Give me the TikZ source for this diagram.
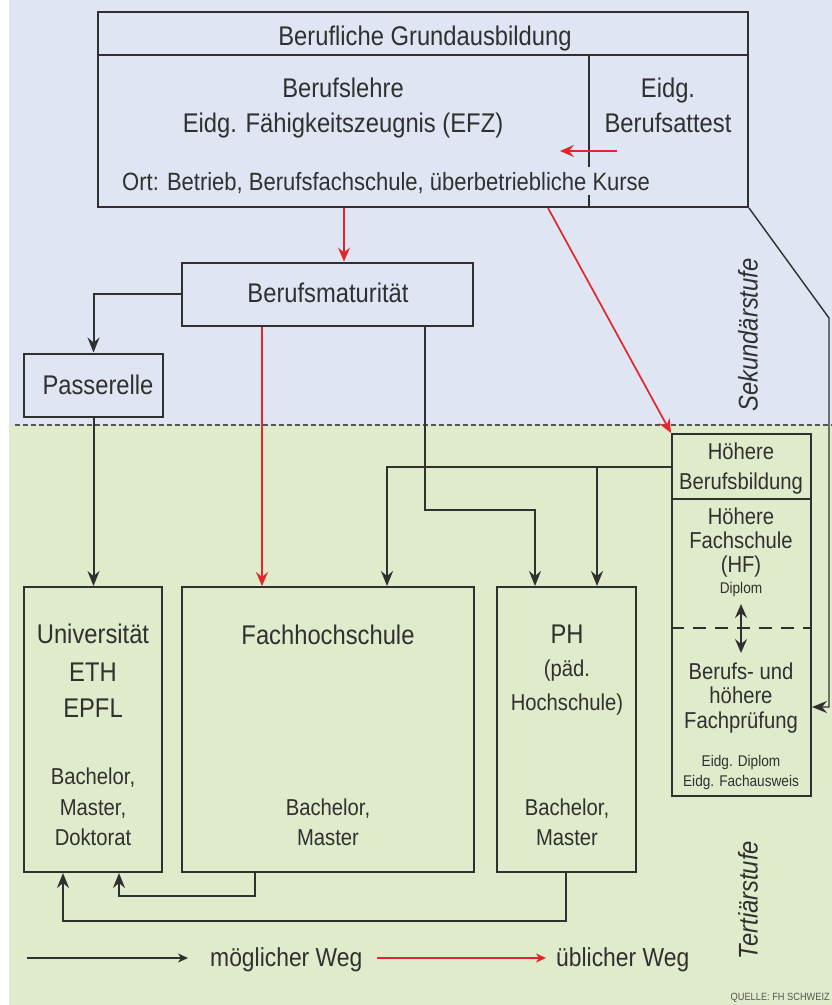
\documentclass[tikz,border=0pt]{standalone}
\usepackage{fontspec}
\setmainfont{Liberation Sans}[FakeStretch=0.88]
\usetikzlibrary{arrows.meta,calc}
\definecolor{bgblue}{HTML}{DFE5F3}
\definecolor{bggreen}{HTML}{E0EBCB}
\definecolor{ink}{HTML}{303030}
\definecolor{redline}{HTML}{E2262C}
\definecolor{srcgray}{HTML}{555555}
\begin{document}
\begin{tikzpicture}[x=1pt,y=-1pt,
  box/.style={draw=ink, line width=2pt, rectangle, inner sep=0pt},
  lbl/.style={text=ink, inner sep=0pt, anchor=base},
  big/.style={lbl, font=\fontsize{27}{30}\selectfont},
  ort/.style={lbl, font=\fontsize{25}{28}\selectfont},
  mid/.style={lbl, font=\fontsize{23}{26}\selectfont},
  sml/.style={lbl, font=\fontsize{15.5}{18}\selectfont},
  rot/.style={text=ink, inner sep=0pt, rotate=90, font=\fontsize{27}{30}\selectfont\itshape},
  conn/.style={draw=ink, line width=2pt},
  arr/.style={conn, -{Stealth[length=15pt,width=12pt,inset=5pt]}},
  thinarr/.style={draw=ink, line width=1.4pt, -{Stealth[length=15pt,width=12pt,inset=5pt]}},
  rarr/.style={draw=redline, line width=1.7pt, -{Stealth[length=14pt,width=12pt,inset=5pt]}},
  legarr/.style={conn, -{Stealth[length=10pt,width=9pt,inset=3pt]}},
  legrarr/.style={draw=redline, line width=2pt, -{Stealth[length=10pt,width=9pt,inset=3pt]}},
  dbl/.style={conn, {Stealth[length=14pt,width=12pt,inset=5pt]}-{Stealth[length=14pt,width=12pt,inset=5pt]}},
]
\useasboundingbox (0,0) rectangle (832,1005);
\begin{scope}
\clip (0,0) rectangle (832,1005);
% backgrounds
\fill[white] (0,0) rectangle (832,1005);
\fill[bgblue] (9,0) rectangle (832,425);
\fill[bggreen] (9,425) rectangle (832,1005);
\draw[draw=srcgray, line width=1.5pt, dash pattern=on 5pt off 3pt] (15,425) -- (832,425);

% boxes
\node[box, minimum width=650pt, minimum height=195pt] (grund) at (423,109.5) {};
\node[box, minimum width=291pt, minimum height=63pt] (bm) at (327.5,294) {};
\node[box, minimum width=139pt, minimum height=63pt] (pas) at (93.5,385) {};
\node[box, minimum width=138pt, minimum height=285pt] (uni) at (93,729.5) {};
\node[box, minimum width=292pt, minimum height=285pt] (fh) at (328,729.5) {};
\node[box, minimum width=139pt, minimum height=285pt] (ph) at (566.5,729.5) {};
\node[box, minimum width=139pt, minimum height=362pt] (hb) at (741.5,615) {};

% internal dividers
\draw[conn] (grund.west |- 0,55) -- (grund.east |- 0,55);
\draw[conn] (589,55) -- (589,167);
\draw[conn] (589,195) -- (589,207);
\draw[conn] (hb.west |- 0,499) -- (hb.east |- 0,499);
\draw[draw=ink, line width=1.7pt, dash pattern=on 13pt off 9pt] (hb.west |- 0,628) -- (hb.east |- 0,628);

% texts in top box
\node[big] (t1) at (425,45) {Berufliche Grundausbildung};
\node[big] (t2) at (343,97) {Berufslehre};
\node[big] (t3) at (343,132) {Eidg. Fähigkeitszeugnis (EFZ)};
\node[big] (t4) at (668,97) {Eidg.};
\node[big] (t5) at (668,132) {Berufsattest};
\node[ort, anchor=base west] (t6) at (122,190) {Ort: Betrieb, Berufsfachschule, überbetriebliche Kurse};
\coordinate (ra1) at (617,151);
\coordinate (ra2) at (560,151);
\draw[rarr] (ra1) -- (ra2);

\node[big] (t7) at (328,302) {Berufsmaturität};
\node[big] (t8) at (98,394) {Passerelle};

% bottom boxes
\node[big] (u1) at (93,643) {Universität};
\node[big] (u2) at (93,681) {ETH};
\node[big] (u3) at (93,717) {EPFL};
\node[mid] (u4) at (93,784) {Bachelor,};
\node[mid] (u5) at (93,815) {Master,};
\node[mid] (u6) at (93,845) {Doktorat};

\node[big] (f1) at (328,644) {Fachhochschule};
\node[mid] (f2) at (328,815) {Bachelor,};
\node[mid] (f3) at (328,845) {Master};

\node[big] (p1) at (567,643) {PH};
\node[mid] (p2) at (567,676) {(päd.};
\node[mid] (p3) at (567,710) {Hochschule)};
\node[mid] (p4) at (567,815) {Bachelor,};
\node[mid] (p5) at (567,845) {Master};

% right box texts
\node[mid] (h1) at (741,459) {Höhere};
\node[mid] (h2) at (741,489) {Berufsbildung};
\node[mid] (h3) at (741,524) {Höhere};
\node[mid] (h4) at (741,548) {Fachschule};
\node[mid] (h5) at (741,572) {(HF)};
\node[sml] (h6) at (741,593) {Diplom};
\node[mid] (h7) at (741,679) {Berufs- und};
\node[mid] (h8) at (741,703) {höhere};
\node[mid] (h9) at (741,728) {Fachprüfung};
\node[sml] (h10) at (741,766) {Eidg. Diplom};
\node[sml] (h11) at (741,786) {Eidg. Fachausweis};
\coordinate (d1) at (741,604);
\coordinate (d2) at (741,653);
\draw[dbl] (d1) -- (d2);

% rotated labels
\node[rot] (sek) at (748,335) {Sekundärstufe};
\node[rot] (ter) at (748,900) {Tertiärstufe};

% connectors
\draw[rarr] (grund.south -| 344,0) -- (bm.north -| 344,0);
\draw[arr] (bm.west) -| (pas.north);
\draw[arr] (pas.south) -- (pas.south |- uni.north);
\draw[rarr] (bm.south -| 262,0) -- (fh.north -| 262,0);
\coordinate (c1) at (535,510);
\draw[arr] (bm.south -| 425,0) |- (c1) -- (ph.north -| 535,0);
\coordinate (j1) at (597,467);
\draw[arr] (hb.west |- 0,467) -| (fh.north -| 387,0);
\draw[arr] (j1) -- (ph.north -| 597,0);
\draw[rarr] (grund.south -| 548,0) -- (hb.north west);
\coordinate (k1) at (829,318);
\draw[thinarr] (grund.south east) -- (k1) |- (hb.east |- 0,707);
\coordinate (b1) at (119,896);
\draw[arr] (fh.south -| 255,0) |- (b1) -- (uni.south -| 119,0);
\coordinate (b2) at (63,921);
\draw[arr] (ph.south -| 566,0) |- (b2) -- (uni.south -| 63,0);

% legend
\coordinate (l1) at (27,958);
\coordinate (l2) at (188,958);
\draw[legarr] (l1) -- (l2);
\node[lbl, anchor=base west, font=\fontsize{26}{29}\selectfont] (lg1) at (210,966) {möglicher Weg};
\coordinate (l3) at (377,958);
\coordinate (l4) at (546,958);
\draw[legrarr] (l3) -- (l4);
\node[lbl, anchor=base west, font=\fontsize{26}{29}\selectfont] (lg2) at (556,966) {üblicher Weg};

\node[lbl, anchor=base east, text=srcgray, font=\fontsize{10.5}{12}\selectfont] (src) at (830,1000) {QUELLE: FH SCHWEIZ};
\end{scope}
\end{tikzpicture}
\end{document}
